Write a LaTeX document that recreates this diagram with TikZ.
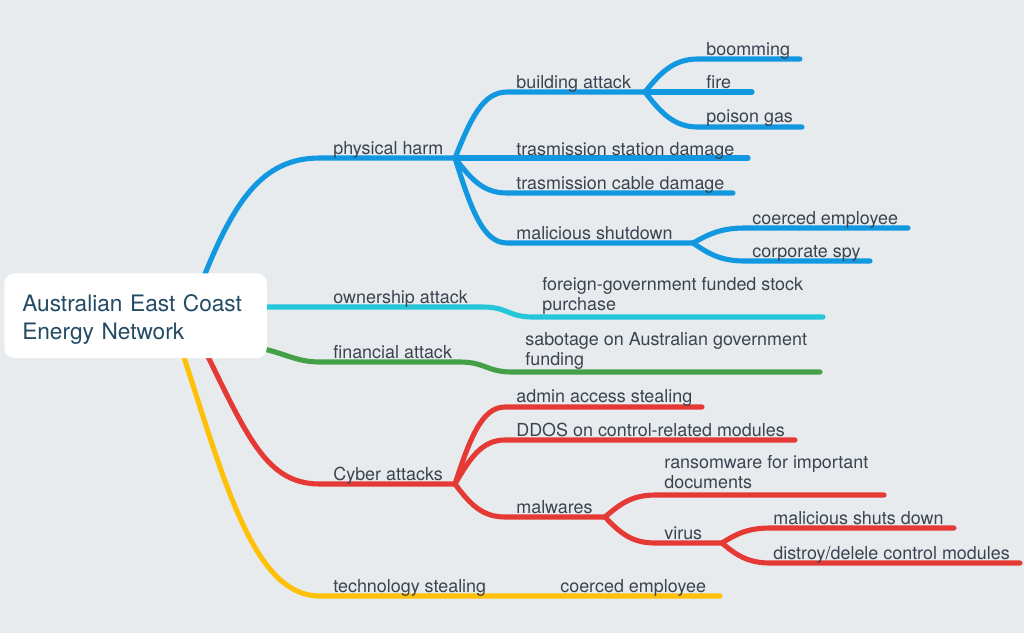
\documentclass[tikz,border=0pt]{standalone}
\usepackage{fontspec}
\setmainfont{TeX Gyre Heros}
\definecolor{MapBg}    {RGB}{232,235,238}
\definecolor{MapText}  {RGB}{58,68,80}
\definecolor{RootText} {RGB}{35,75,100}
\definecolor{PhysBlue} {RGB}{18,152,224}
\definecolor{OwnCyan}  {RGB}{38,198,218}
\definecolor{FinGreen} {RGB}{67,160,71}
\definecolor{CyberRed} {RGB}{229,57,53}
\definecolor{TechGold} {RGB}{255,193,7}
\usetikzlibrary{backgrounds}

\begin{document}
\begin{tikzpicture}[x=0.02cm,y=-0.02cm,
  branch/.style={line width=2.9pt,line cap=round,line join=round},
  lbl/.style={anchor=south west,inner sep=0pt,text depth=0pt,text=MapText,
              font=\fontsize{10.2}{11.6}\selectfont},
  lbltwo/.style={lbl,anchor=north west,align=left},
  rootbox/.style={fill=white,rounded corners=5.7pt,inner xsep=10.2pt,
              text width=129pt,minimum height=48.2pt,align=left,text depth=14pt,
              text=RootText,font=\fontsize{12.9}{15.9}\selectfont}]
  \useasboundingbox (0,0) rectangle (1024,633);
  % central topic
  \node[rootbox,anchor=north west](root) at (4,273)
       {Australian East Coast\\Energy Network};
  % starts under the central topic
  \coordinate (phS) at (195,300);
  \coordinate (owS) at (200,307);
  \coordinate (fiS) at (240,346);
  \coordinate (cyS) at (190,320);
  \coordinate (teS) at (175,330);
  % junctions
  \coordinate (jPhys)  at (455,158);
  \coordinate (jBldg)  at (645,92);
  \coordinate (jMal)   at (693,243);
  \coordinate (jCyber) at (455,484);
  \coordinate (jMalw)  at (605,517);
  \coordinate (jVirus) at (722,543);
  % labels
  \node[lbl](phys) at (333,155){physical harm};
  \node[lbl](bldg) at (516,89){building attack};
  \node[lbl](boom) at (706,56){boomming};
  \node[lbl](fire) at (706,89){fire};
  \node[lbl](gas)  at (706,123){poison gas};
  \node[lbl](stat) at (516,156){trasmission station damage};
  \node[lbl](cabl) at (516,190){trasmission cable damage};
  \node[lbl](mal)  at (516,240){malicious shutdown};
  \node[lbl](coer) at (752,225){coerced employee};
  \node[lbl](spy)  at (752,258){corporate spy};
  \node[lbl](own)  at (333,304){ownership attack};
  \node[lbltwo](stock) at (542,277){foreign-government funded stock\\purchase};
  \node[lbl](fin)  at (333,359){financial attack};
  \node[lbltwo](fund) at (525,332){sabotage on Australian government\\funding};
  \node[lbl](cyb)  at (333,481){Cyber attacks};
  \node[lbl](adm)  at (516,403){admin access stealing};
  \node[lbl](ddos) at (516,437){DDOS on control-related modules};
  \node[lbl](malw) at (516,514){malwares};
  \node[lbltwo](rans) at (664,455){ransomware for important\\documents};
  \node[lbl](vir)  at (664,540){virus};
  \node[lbl](shut) at (773,525){malicious shuts down};
  \node[lbl](dest) at (773,560){distroy/delele control modules};
  \node[lbl](tech) at (333,593){technology stealing};
  \node[lbl](tcoe) at (560,593){coerced employee};

  \begin{scope}[on background layer]
    \fill[MapBg] (0,0) rectangle (1024,633);
    % physical harm
    \draw[branch,PhysBlue](phS) .. controls (232,200) and (262,158) .. (320,158) -- (jPhys);
    \draw[branch,PhysBlue](jPhys) .. controls +(16,-40) and +(-24,0) .. (507,92) -- (jBldg);
    \draw[branch,PhysBlue](jBldg) .. controls +(16,-20) and +(-24,0) .. (698,59) -- (800,59);
    \draw[branch,PhysBlue](jBldg) -- (752,92);
    \draw[branch,PhysBlue](jBldg) .. controls +(16,21) and +(-24,0) .. (698,127) -- (802,127);
    \draw[branch,PhysBlue](jPhys) -- (748,158);
    \draw[branch,PhysBlue](jPhys) .. controls +(16,21) and +(-24,0) .. (507,193) -- (733,193);
    \draw[branch,PhysBlue](jPhys) .. controls +(16,51) and +(-24,0) .. (507,243) -- (jMal);
    \draw[branch,PhysBlue](jMal) .. controls +(16,-9) and +(-24,0) .. (745,228) -- (908,228);
    \draw[branch,PhysBlue](jMal) .. controls +(16,11) and +(-24,0) .. (745,261) -- (870,261);
    % ownership attack
    \draw[branch,OwnCyan](owS) -- (483,307) .. controls +(25,0) and +(-25,0) .. (533,317) -- (823,317);
    % financial attack
    \draw[branch,FinGreen](fiS) .. controls +(40,2) and +(-30,0) .. (320,362) -- (460,362)
         .. controls +(25,0) and +(-25,0) .. (512,372) -- (820,372);
    % cyber attacks
    \draw[branch,CyberRed](cyS) .. controls (245,430) and (262,484) .. (320,484) -- (jCyber);
    \draw[branch,CyberRed](jCyber) .. controls +(15,-46) and +(-23,0) .. (505,407) -- (702,407);
    \draw[branch,CyberRed](jCyber) .. controls +(15,-26) and +(-23,0) .. (505,440) -- (795,440);
    \draw[branch,CyberRed](jCyber) .. controls +(15,20) and +(-23,0) .. (505,517) -- (jMalw);
    \draw[branch,CyberRed](jMalw) .. controls +(15,-13) and +(-23,0) .. (655,495) -- (884,495);
    \draw[branch,CyberRed](jMalw) .. controls +(15,16) and +(-23,0) .. (655,543) -- (jVirus);
    \draw[branch,CyberRed](jVirus) .. controls +(14,-9) and +(-22,0) .. (770,528) -- (954,528);
    \draw[branch,CyberRed](jVirus) .. controls +(14,12) and +(-22,0) .. (770,563) -- (1020,563);
    % technology stealing
    \draw[branch,TechGold](teS) .. controls (222,470) and (250,596) .. (320,596) -- (720,596);
  \end{scope}
\end{tikzpicture}
\end{document}
